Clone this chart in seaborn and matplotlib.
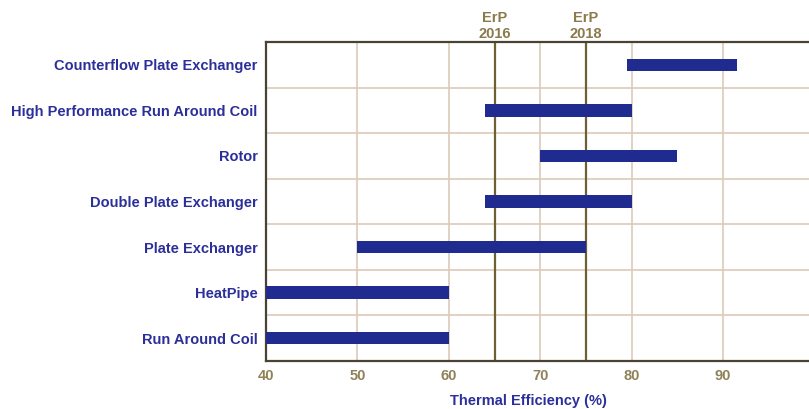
import matplotlib
matplotlib.use("Agg")
import matplotlib.pyplot as plt
import seaborn as sns
import pandas as pd

categories = ["Counterflow Plate Exchanger", "High Performance Run Around Coil", "Rotor",
              "Double Plate Exchanger", "Plate Exchanger", "HeatPipe", "Run Around Coil"]
eff_low = [79.5, 64.0, 70.0, 64.0, 50.0, 40.0, 40.0]
eff_high = [91.5, 80.0, 85.0, 80.0, 75.0, 60.0, 60.0]
erp_values = [65, 75]
erp_labels = ["ErP\n2016", "ErP\n2018"]
xticks = [40, 50, 60, 70, 80, 90]

sns.set_theme(style="white")
plt.rcParams['font.family'] = ['Liberation Sans', 'DejaVu Sans']

df = pd.DataFrame({"cat": categories, "low": eff_low, "high": eff_high})

fig = plt.figure(figsize=(8.09, 4.09), dpi=100)
ax = fig.add_axes([266/809, 1-361/409, 1-266/809, (361-42)/409])

bar_color = "#1f2b8e"
sns.barplot(data=df, x="high", y="cat", orient="h", color=bar_color, width=0.27,
            ax=ax, zorder=3, saturation=1)
for patch, lo, hi in zip(ax.patches, eff_low, eff_high):
    patch.set_x(lo)
    patch.set_width(hi - lo)
    patch.set_edgecolor("none")

ax.set_xlim(40, 99.4)
ax.set_ylim(6.5, -0.5)

grid_c = "#dccbb8"
for x in xticks[1:]:
    ax.axvline(x, color=grid_c, lw=1.2, zorder=1)
for y in range(len(categories) - 1):
    ax.axhline(y + 0.5, color=grid_c, lw=1.2, zorder=1)

erp_c = "#6e5f35"
for v, lab in zip(erp_values, erp_labels):
    ax.axvline(v, color=erp_c, lw=1.6, zorder=2)
    ax.text(v, 1.003, lab, transform=ax.get_xaxis_transform(), ha="center", va="bottom",
            color="#8a7a4c", fontsize=10.5, fontweight="bold", linespacing=1.15)

ax.set_xticks(xticks)
ax.set_xticklabels([str(t) for t in xticks], color="#8f8258", fontsize=10.5, fontweight="bold")
ax.tick_params(axis="x", length=0, pad=6)
ax.tick_params(axis="y", length=0, pad=6)
for lbl in ax.get_yticklabels():
    lbl.set_color("#2b2f9a")
    lbl.set_fontweight("bold")
    lbl.set_fontsize(10.5)

ax.set_ylabel("")
ax.set_xlabel("Thermal Efficiency (%)", color="#2b2f9a", fontsize=10.5, fontweight="bold")
ax.xaxis.set_label_coords(0.484, -0.105)

spine_c = "#4a4334"
for s in ["left", "bottom", "top"]:
    ax.spines[s].set_color(spine_c)
    ax.spines[s].set_linewidth(1.6)
ax.spines["right"].set_visible(False)

fig.savefig("out.png", dpi=100)
